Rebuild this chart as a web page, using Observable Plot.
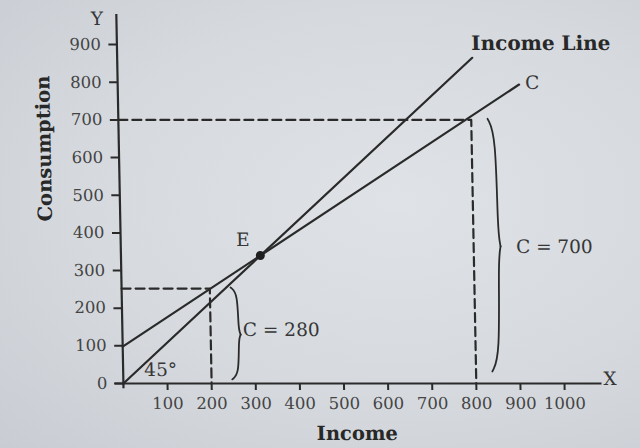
<!DOCTYPE html>
<html>
<head>
<meta charset="utf-8">
<script src="https://cdn.jsdelivr.net/npm/d3@7"></script>
<script src="https://cdn.jsdelivr.net/npm/@observablehq/plot@0.6"></script>
<style>
  html, body { margin: 0; padding: 0; }
  body { width: 640px; height: 448px; overflow: hidden;
         background: radial-gradient(ellipse at 62% 45%, #dfe2e6 0%, #d6dadf 55%, #c9cdd3 100%); }
  #chart svg { display: block; }
</style>
</head>
<body>
<div id="chart"></div>
<script>
// ---- data ----
const xTicks = [100, 200, 300, 400, 500, 600, 700, 800, 900, 1000];
const yTicks = [0, 100, 200, 300, 400, 500, 600, 700, 800, 900];

// Income line (45° line) and consumption function C
const incomeLineX = [0, 805];
const incomeLineY = [0, 865];
const consumptionX = [0, 910];
const consumptionY = [98, 794];

// equilibrium point E
const equilibriumX = [316];
const equilibriumY = [340];

// dashed guides: income level -> consumption level
const guideIncome = [200, 800];
const guideConsumption = [252, 700];

// braces: base x, tip x, bottom, top, middle (tip) level
const braceBase = [247, 837];
const braceTip = [268, 861];
const braceBottom = [11, 32];
const braceTop = [255, 703];
const braceMid = [130, 364];

// annotations
const labelText = ["Income Line", "C", "E", "C = 280", "C = 700", "45°", "Y", "X"];
const labelX = [961, 940, 277, 360, 983, 85, -44, 1103];
const labelY = [903, 799, 380, 141, 362, 36, 969, 12];
const labelBold = [true, false, false, false, false, false, false, false];

const axisTitleText = ["Consumption", "Income"];
const axisTitleX = [-169, 528];
const axisTitleY = [624, -133];
const axisTitleRotate = [-90, 0];

// ---- tables built from the arrays ----
const incomeLine = incomeLineX.map((x, i) => ({x, y: incomeLineY[i]}));
const consumption = consumptionX.map((x, i) => ({x, y: consumptionY[i]}));
const equilibrium = equilibriumX.map((x, i) => ({x, y: equilibriumY[i]}));
const guides = guideIncome.flatMap((inc, i) => [
  {g: i, x: 0, y: guideConsumption[i]},
  {g: i, x: inc, y: guideConsumption[i]},
  {g: i, x: inc, y: 0}
]);
const braces = braceBase.flatMap((x0, i) => {
  const w = braceTip[i] - x0, y0 = braceBottom[i], y1 = braceTop[i], ym = braceMid[i];
  const hu = y1 - ym, hl = ym - y0;
  return [
    {part: i * 2, x: x0, y: y1},
    {part: i * 2, x: x0 + 0.75 * w, y: y1 - 0.12 * hu},
    {part: i * 2, x: x0 + 0.75 * w, y: ym + 0.12 * hu},
    {part: i * 2, x: x0 + w, y: ym},
    {part: i * 2 + 1, x: x0 + w, y: ym},
    {part: i * 2 + 1, x: x0 + 0.75 * w, y: ym - 0.12 * hl},
    {part: i * 2 + 1, x: x0 + 0.75 * w, y: y0 + 0.12 * hl},
    {part: i * 2 + 1, x: x0, y: y0}
  ];
});
const labels = labelText.map((t, i) => ({t, x: labelX[i], y: labelY[i], bold: labelBold[i]}));
const titles = axisTitleText.map((t, i) => ({t, x: axisTitleX[i], y: axisTitleY[i], r: axisTitleRotate[i]}));

const ink = "#2a2a2a";
const textInk = "#363636";

const chart = Plot.plot({
  width: 640,
  height: 448,
  marginLeft: 122.9,
  marginRight: 38.5,
  marginTop: 14,
  marginBottom: 65,
  x: {domain: [0, 1085]},
  y: {domain: [0, 980]},
  style: {background: "transparent", fontFamily: "'DejaVu Serif', serif", fontSize: "16.5px", color: "#444444", overflow: "visible"},
  marks: [
    Plot.ruleY([0], {x1: -20, x2: 1085, stroke: ink, strokeWidth: 2.2}),
    Plot.ruleX([0], {y1: -14, y2: 980, stroke: ink, strokeWidth: 2.2}),
    Plot.axisX({ticks: xTicks, tickSize: 7, tickPadding: 7, tickFormat: d => String(d), label: null, stroke: ink, strokeWidth: 2}),
    Plot.axisY({ticks: yTicks, tickSize: 8, tickPadding: 8, tickFormat: d => String(d), label: null, stroke: ink, strokeWidth: 2}),
    Plot.line(guides, {x: "x", y: "y", z: "g", stroke: ink, strokeWidth: 2.2, strokeDasharray: "9,5"}),
    Plot.line(incomeLine, {x: "x", y: "y", stroke: ink, strokeWidth: 2.2}),
    Plot.line(consumption, {x: "x", y: "y", stroke: ink, strokeWidth: 2.2}),
    Plot.line(braces, {x: "x", y: "y", z: "part", curve: "basis", stroke: ink, strokeWidth: 1.8}),
    Plot.dot(equilibrium, {x: "x", y: "y", r: 4.5, fill: "#1f1f1f", stroke: "none"}),
    Plot.text(labels.filter(d => !d.bold), {x: "x", y: "y", text: "t", fill: textInk, fontSize: 18.5, lineAnchor: "middle"}),
    Plot.text(labels.filter(d => d.bold), {x: "x", y: "y", text: "t", fill: "#282828", fontSize: 20, fontWeight: "bold", lineAnchor: "middle"}),
    Plot.text(titles, {x: "x", y: "y", text: "t", rotate: "r", fill: "#282828", fontSize: 19.5, fontWeight: "bold", lineAnchor: "middle"})
  ]
});
chart.style.transform = "skewX(1.1deg)";
chart.style.transformOrigin = "0px 383px";
document.getElementById("chart").append(chart);
</script>
</body>
</html>
